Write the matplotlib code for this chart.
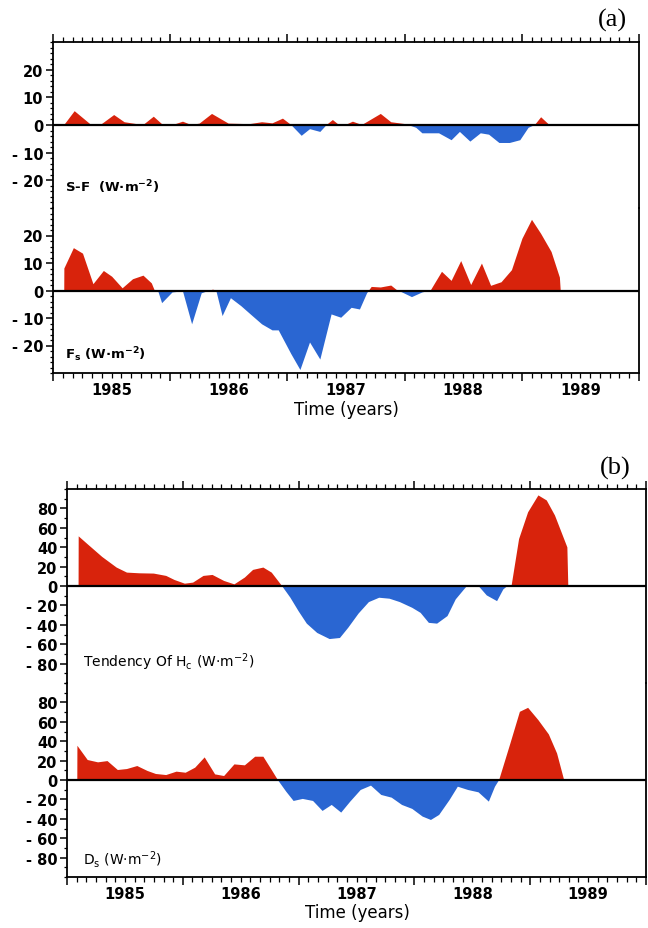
import numpy as np
import matplotlib
matplotlib.use("Agg")
import matplotlib.pyplot as plt
from matplotlib.ticker import FixedLocator, FuncFormatter, MultipleLocator

# ---------------- data (decimal years, W m-2) ----------------
sf_t = [1984.596, 1984.685, 1984.827, 1984.916, 1985.022, 1985.111, 1985.218, 1985.271,
        1985.360, 1985.431, 1985.538, 1985.609, 1985.680, 1985.751, 1985.857, 1985.999,
        1986.177, 1986.284, 1986.373, 1986.462, 1986.533, 1986.622, 1986.693, 1986.781,
        1986.835, 1986.888, 1986.941, 1987.012, 1987.059, 1987.137, 1987.297, 1987.386,
        1987.510, 1987.599, 1987.652, 1987.794, 1987.901, 1987.972, 1988.061, 1988.150,
        1988.221, 1988.309, 1988.398, 1988.487, 1988.558, 1988.612, 1988.665, 1988.736,
        1989.482]
sf_v = [0.0, 5.0, 0.0, 0.3, 3.6, 1.0, 0.3, 0.0,
        3.0, 0.3, 0.2, 1.2, 0.0, 0.5, 4.0, 0.5,
        0.3, 1.0, 0.6, 2.3, 0.0, -3.9, -1.5, -2.5,
        0.0, 1.8, 0.0, 0.3, 1.2, 0.0, 4.0, 1.0,
        0.3, -1.0, -3.0, -3.0, -5.5, -2.5, -6.0, -3.0,
        -3.5, -6.5, -6.5, -5.5, -1.0, 0.0, 2.8, 0.0,
        0.0]

fs_t = [1984.596, 1984.597, 1984.678, 1984.756, 1984.845, 1984.934, 1985.005, 1985.094,
        1985.183, 1985.272, 1985.343, 1985.368, 1985.396, 1985.431, 1985.520, 1985.609,
        1985.687, 1985.769, 1985.840, 1985.865, 1985.893, 1985.947, 1986.018, 1986.107,
        1986.195, 1986.284, 1986.373, 1986.426, 1986.533, 1986.611, 1986.693, 1986.781,
        1986.877, 1986.959, 1987.048, 1987.119, 1987.180, 1987.219, 1987.297, 1987.386,
        1987.439, 1987.475, 1987.563, 1987.652, 1987.723, 1987.819, 1987.901, 1987.983,
        1988.068, 1988.160, 1988.238, 1988.327, 1988.416, 1988.505, 1988.587, 1988.665,
        1988.754, 1988.825, 1988.832]
fs_v = [0.0, 8.0, 15.4, 13.4, 2.3, 7.1, 5.0, 0.8,
        4.1, 5.4, 2.6, 0.0, 0.0, -4.6, -0.7, -0.3,
        -12.3, -1.0, 0.0, 0.3, 0.0, -9.3, -2.8, -5.7,
        -9.0, -12.3, -14.5, -14.5, -23.1, -28.9, -18.9, -25.1,
        -8.7, -9.9, -6.3, -6.9, -1.0, 1.3, 1.1, 1.8,
        0.0, -0.6, -2.4, -0.7, 0.0, 6.8, 3.5, 10.7,
        2.0, 9.8, 1.7, 3.0, 7.4, 18.8, 25.7, 20.6,
        14.0, 4.7, 0.0]

hc_t = [1984.600, 1984.601, 1984.679, 1984.804, 1984.929, 1985.018, 1985.125, 1985.250,
        1985.357, 1985.429, 1985.518, 1985.589, 1985.679, 1985.757, 1985.857, 1985.946,
        1986.036, 1986.107, 1986.196, 1986.268, 1986.357, 1986.429, 1986.500, 1986.571,
        1986.661, 1986.768, 1986.857, 1986.929, 1987.018, 1987.107, 1987.196, 1987.286,
        1987.375, 1987.482, 1987.554, 1987.625, 1987.696, 1987.786, 1987.857, 1987.929,
        1987.954, 1988.054, 1988.125, 1988.214, 1988.268, 1988.304, 1988.339, 1988.404,
        1988.482, 1988.571, 1988.643, 1988.714, 1988.821, 1988.829]
hc_v = [0.0, 51.2, 43.0, 30.0, 19.0, 13.8, 13.1, 12.8,
        10.4, 6.2, 2.4, 3.5, 10.4, 11.4, 5.2, 1.7,
        8.7, 16.6, 19.0, 13.8, 0.0, -12.0, -26.0, -38.8,
        -48.4, -54.7, -53.6, -43.0, -28.4, -16.6, -12.1, -13.1,
        -16.6, -22.5, -27.7, -38.0, -38.8, -31.0, -13.8, -3.5,
        0.0, 0.0, -9.7, -15.6, -3.5, 0.0, 0.0, 48.4,
        76.0, 93.4, 88.2, 72.7, 39.8, 0.0]

ds_t = [1984.589, 1984.590, 1984.679, 1984.768, 1984.850, 1984.939, 1985.018, 1985.107,
        1985.196, 1985.268, 1985.357, 1985.446, 1985.525, 1985.607, 1985.689, 1985.779,
        1985.857, 1985.946, 1986.036, 1986.125, 1986.196, 1986.268, 1986.321, 1986.393,
        1986.457, 1986.536, 1986.625, 1986.707, 1986.786, 1986.868, 1986.946, 1987.036,
        1987.125, 1987.214, 1987.304, 1987.393, 1987.482, 1987.571, 1987.643, 1987.714,
        1987.804, 1987.875, 1987.964, 1988.054, 1988.143, 1988.196, 1988.232, 1988.329,
        1988.411, 1988.482, 1988.571, 1988.661, 1988.732, 1988.793]
ds_v = [0.0, 35.3, 20.6, 18.2, 19.5, 10.3, 11.3, 14.4,
        9.3, 6.2, 5.1, 8.6, 7.5, 12.7, 23.3, 5.8,
        4.1, 16.1, 15.1, 24.0, 24.0, 10.3, 0.0, -12.0,
        -21.6, -19.5, -21.6, -31.9, -25.7, -33.6, -22.3, -10.3,
        -5.8, -15.4, -18.2, -25.7, -29.8, -37.7, -41.2, -36.0,
        -20.6, -6.9, -10.3, -12.7, -22.3, -6.9, 0.0, 37.7,
        70.3, 74.4, 61.7, 47.0, 27.4, 0.0]

year_labels = [1985, 1986, 1987, 1988, 1989]

RED = "#d8230c"
BLUE = "#2a66d2"

plt.rcParams['font.family'] = ['DejaVu Sans']
plt.rcParams['mathtext.default'] = 'regular'

W, H = 648, 929
fig = plt.figure(figsize=(W / 100, H / 100), dpi=100)
fig.patch.set_facecolor("white")


def fr(left, top, right, bottom):
    return [left / W, 1 - bottom / H, (right - left) / W, (bottom - top) / H]


def fill(ax, t, v):
    t = np.asarray(t, float)
    v = np.asarray(v, float)
    ax.fill_between(t, 0, v, where=v >= 0, interpolate=True, color=RED, lw=0)
    ax.fill_between(t, 0, v, where=v <= 0, interpolate=True, color=BLUE, lw=0)
    ax.axhline(0, color="black", lw=1.6, zorder=3)


month_ticks = [1984.5 + k / 12 for k in range(61)]
half_ticks = [1984.5 + k for k in range(6)]


def yearfmt(x, pos):
    r = round(x)
    if abs(x - r) < 1e-3 and r in year_labels:
        return str(r)
    return ""


def style(ax, ylim, major, minor, top, tickfs=10.5):
    ax.set_xlim(1984.5, 1989.5)
    ax.set_ylim(*ylim)
    ax.yaxis.set_minor_locator(MultipleLocator(minor))
    yt = [y for y in np.arange(ylim[0] + major, ylim[1], major)]
    ax.set_yticks(yt)
    ax.set_yticklabels([("- %d" % abs(y)) if y < 0 else "%d" % y for y in yt],
                       fontsize=tickfs, fontweight="bold")
    ax.xaxis.set_major_locator(FixedLocator(half_ticks))
    ax.xaxis.set_minor_locator(FixedLocator(month_ticks))
    ax.xaxis.set_major_formatter(FuncFormatter(lambda x, p: ""))
    ax.xaxis.set_minor_formatter(FuncFormatter(yearfmt))
    ax.tick_params(axis="y", which="major", direction="out", length=5, width=1.1, pad=2)
    ax.tick_params(axis="y", which="minor", direction="out", length=2.5, width=0.9)
    ax.tick_params(axis="y", right=False, which="both")
    if top:
        ax.xaxis.set_ticks_position("top")
        ax.spines["bottom"].set_visible(False)
        ax.tick_params(axis="x", which="both", labeltop=False, labelbottom=False)
    else:
        ax.xaxis.set_ticks_position("bottom")
        ax.spines["top"].set_visible(False)
        ax.tick_params(axis="x", which="minor", labelsize=10.5, pad=3)
        for lab in ax.xaxis.get_minorticklabels():
            lab.set_fontweight("bold")
    ax.tick_params(axis="x", which="major", direction="out", length=6, width=1.1)
    ax.tick_params(axis="x", which="minor", direction="out", length=3.5, width=0.9)
    for s in ax.spines.values():
        s.set_linewidth(1.3)
    ax.set_facecolor("none")


# ---------------- panel (a) ----------------
ax1 = fig.add_axes(fr(53, 43, 639, 209))
ax2 = fig.add_axes(fr(53, 209, 639, 374))
fill(ax1, sf_t, sf_v)
fill(ax2, fs_t, fs_v)
style(ax1, (-30, 30), 10, 2, True)
style(ax2, (-30, 30), 10, 2, False)
ax1.text(0.02, 0.13, "S-F  (W·m$^{-2}$)", transform=ax1.transAxes, fontsize=9.5,
         fontweight="bold", va="center", ha="left")
ax2.text(0.02, 0.115, "F$_s$ (W·m$^{-2}$)", transform=ax2.transAxes, fontsize=9.5,
         fontweight="bold", va="center", ha="left")
fig.text(346 / W, 1 - 410 / H, "Time (years)", fontsize=12, ha="center", va="center")
fig.text(612 / W, 1 - 20 / H, "(a)", fontsize=19, family="Liberation Serif",
         ha="center", va="center")

# ---------------- panel (b) ----------------
ax3 = fig.add_axes(fr(67, 490, 646, 684))
ax4 = fig.add_axes(fr(67, 684, 646, 878))
fill(ax3, hc_t, hc_v)
fill(ax4, ds_t, ds_v)
style(ax3, (-100, 100), 20, 10, True)
style(ax4, (-100, 100), 20, 10, False)
ax3.text(0.028, 0.113, "Tendency Of H$_c$ (W·m$^{-2}$)", transform=ax3.transAxes,
         fontsize=10, va="center", ha="left")
ax4.text(0.028, 0.093, "D$_s$ (W·m$^{-2}$)", transform=ax4.transAxes,
         fontsize=10, va="center", ha="left")
fig.text(357 / W, 1 - 913 / H, "Time (years)", fontsize=12, ha="center", va="center")
fig.text(615 / W, 1 - 468 / H, "(b)", fontsize=19, family="Liberation Serif",
         ha="center", va="center")

fig.savefig("out.png", dpi=100, facecolor="white")
